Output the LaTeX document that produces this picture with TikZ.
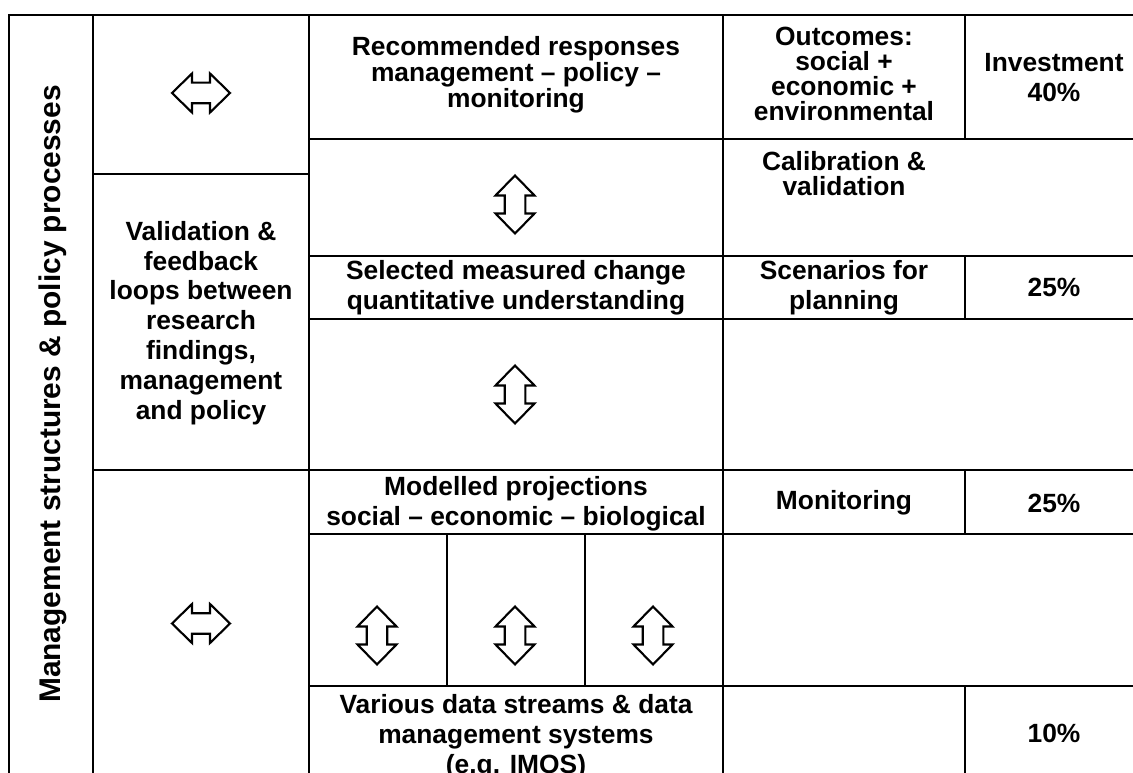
\documentclass[tikz,border=0pt]{standalone}
\usepackage{fontspec}
\setmainfont{Liberation Sans}

\begin{document}
\begin{tikzpicture}[
  x=0.02cm, y=-0.02cm,
  grid/.style={line width=1.1pt},
  cell/.style={align=center, inner sep=0pt, font=\bfseries\fontsize{15}{#1}\selectfont},
  cell/.default=17,
  dbl/.pic={\draw[line width=1.2pt, miter limit=4]
    (-29,0) -- (-9,-19.5) -- (-9,-10.3) -- (9,-10.3) -- (9,-19.5) -- (29,0)
    -- (9,19.5) -- (9,10.3) -- (-9,10.3) -- (-9,19.5) -- cycle;}
]
\useasboundingbox (0,0) rectangle (1133,773);
\clip (0,0) rectangle (1133,773);

% table rules
\draw[grid] (9,790) -- (9,15) -- (1140,15);
\foreach \x in {93,309,723} \draw[grid] (\x,15) -- (\x,790);
\draw[grid] (93,174) -- (309,174);
\draw[grid] (93,470) -- (1140,470);
\foreach \y in {139,256,319,534,686} \draw[grid] (309,\y) -- (1140,\y);
\foreach \a/\b in {15/139,256/319,470/534,686/790} \draw[grid] (965,\a) -- (965,\b);
\foreach \x in {447,585} \draw[grid] (\x,534) -- (\x,686);

% cell texts
\node[cell, rotate=90, font=\bfseries\fontsize{17}{20}\selectfont] (title) at (53,394)
  {Management structures \& policy processes};
\node[cell=14.8] (rec) at (516,75) {Recommended responses\\management -- policy --\\monitoring};
\node[cell=14.2] (out) at (844,74) {Outcomes:\\social +\\economic +\\environmental};
\node[cell] (inv) at (1054,78) {Investment\\40\%};
\node[cell=14.2, anchor=north] (cal) at (844,151) {Calibration \&\\validation};
\node[cell] (val) at (201,323) {Validation \&\\feedback\\loops between\\research\\findings,\\management\\and policy};
\node[cell] (sel) at (516,288) {Selected measured change\\quantitative understanding};
\node[cell] (scen) at (844,288) {Scenarios for\\planning};
\node[cell] (pa) at (1054,287) {25\%};
\node[cell] (mod) at (516,504) {Modelled projections\\social -- economic -- biological};
\node[cell] (mon) at (844,503) {Monitoring};
\node[cell] (pb) at (1054,503) {25\%};
\node[cell, anchor=north] (data) at (516,694) {Various data streams \& data\\management systems\\(e.g. IMOS)};
\node[cell] (pc) at (1054,733) {10\%};

% two-way arrows
\pic at (201,93) {dbl};
\pic at (201,623.5) {dbl};
\pic[rotate=90] at (515,204.5) {dbl};
\pic[rotate=90] at (515,394.5) {dbl};
\foreach \x in {377,515,653} \pic[rotate=90] at (\x,635.5) {dbl};
\end{tikzpicture}
\end{document}
